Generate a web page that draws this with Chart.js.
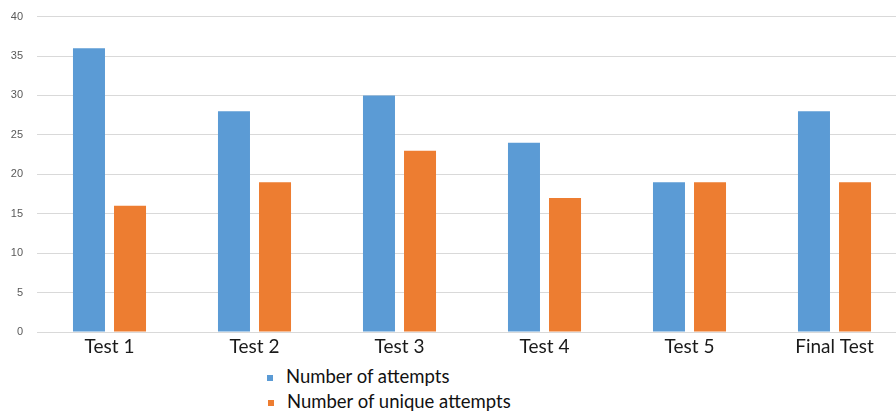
<!DOCTYPE html>
<html>
<head>
<meta charset="utf-8">
<script src="https://cdn.jsdelivr.net/npm/chart.js@4"></script>
<style>
  body { margin: 0; background: #fff; overflow: hidden; width: 896px; height: 414px; }
  #wrap { position: absolute; left: 0; top: -4px; width: 907px; height: 366px; }
  #legend { position: absolute; left: 267px; top: 364px; font-family: Lato, "Open Sans", sans-serif; font-size: 18.5px; color: #111; }
  #legend div { height: 25px; line-height: 25px; }
  #legend span.box { display: inline-block; width: 6px; height: 6px; margin-right: 13px; vertical-align: middle; }
  #legend div + div { padding-left: 1px; }
</style>
</head>
<body>
<div id="wrap"><canvas id="chart"></canvas></div>
<div id="legend"></div>
<script>
// chart data
const test_labels = ["Test 1", "Test 2", "Test 3", "Test 4", "Test 5", "Final Test"];
const attempts = [36, 28, 30, 24, 19, 28];
const unique_attempts = [16, 19, 23, 17, 19, 19];
const y_ticks = [0, 5, 10, 15, 20, 25, 30, 35, 40];

const blue = '#5B9BD5';
const orange = '#ED7D31';

const ctx = document.getElementById('chart').getContext('2d');

let chart = new Chart(ctx, {
  type: 'bar',
  data: {
    labels: test_labels,
    datasets: [
      {
        label: 'Number of attempts',
        data: attempts,
        backgroundColor: blue,
        categoryPercentage: 0.566,
        barPercentage: 0.78
      },
      {
        label: 'Number of unique attempts',
        data: unique_attempts,
        backgroundColor: orange,
        categoryPercentage: 0.566,
        barPercentage: 0.78
      }
    ]
  },
  options: {
    responsive: true,
    maintainAspectRatio: false,
    animation: false,
    layout: { padding: { top: 6, right: 0, left: 0, bottom: 0 } },
    plugins: {
      legend: { display: false },
      tooltip: { enabled: false }
    },
    scales: {
      x: {
        grid: { display: false, drawTicks: false },
        border: { display: false },
        ticks: {
          color: '#1a1a1a',
          padding: 3,
          font: { family: 'Lato, "Open Sans", sans-serif', size: 19 }
        },
        afterFit: (scale) => { scale.height = 30; }
      },
      y: {
        min: 0,
        max: 40,
        afterBuildTicks: (scale) => { scale.ticks = y_ticks.map(v => ({ value: v })); },
        grid: { color: '#d9d9d9', drawTicks: false },
        border: { display: false },
        ticks: {
          color: '#595959',
          padding: 14,
          font: { family: '"Liberation Sans", Arial, sans-serif', size: 11 }
        },
        afterFit: (scale) => { scale.width = 37; }
      }
    }
  }
});

// html legend, built from the chart's datasets
const legend = document.getElementById('legend');
legend.innerHTML = chart.data.datasets.map(ds =>
  `<div><span class="box" style="background:${ds.backgroundColor}"></span>${ds.label}</div>`
).join('');
</script>
</body>
</html>
